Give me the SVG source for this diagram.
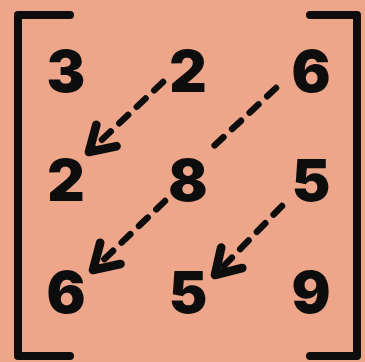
<svg xmlns="http://www.w3.org/2000/svg" width="365" height="362" viewBox="0 0 365 362">
<defs>
<style>
.num{font-family:Inter,"DejaVu Sans",sans-serif;font-weight:900;font-size:58px;fill:#0d0d0d;text-anchor:middle}
.br{fill:none;stroke:#0d0d0d;stroke-width:8;stroke-linecap:round;stroke-linejoin:round}
.dash{fill:none;stroke:#0d0d0d;stroke-width:6.5;stroke-linecap:round;stroke-dasharray:12 12}
</style>
<marker id="ah" markerUnits="userSpaceOnUse" markerWidth="40" markerHeight="40" viewBox="-25 -15 30 30" refX="0" refY="0" orient="auto">
<path d="M-18,-11 L0,0 L-18,11" fill="none" stroke="#0d0d0d" stroke-width="6.5" stroke-linecap="round" stroke-linejoin="round"/>
</marker>
</defs>
<rect width="365" height="362" fill="#EEA68A"/>
<g id="brackets">
<path class="br" d="M70,15 L18,15 L18,356 L70,356"/>
<path class="br" d="M310,15 L357,15 L357,356 L310,356"/>
</g>
<g id="connectors">
<path class="dash" d="M163,82 L89,152" marker-end="url(#ah)"/>
<path class="dash" d="M276,88 L214,146"/>
<path class="dash" d="M165,201 L93,270" marker-end="url(#ah)"/>
<path class="dash" d="M282,206 L215,275" marker-end="url(#ah)"/>
</g>
<g id="n11"><text class="num" x="66" y="92">3</text></g>
<g id="n12"><text class="num" x="188" y="92">2</text></g>
<g id="n13"><text class="num" x="311" y="92">6</text></g>
<g id="n21"><text class="num" x="66" y="201">2</text></g>
<g id="n22"><text class="num" x="188" y="201">8</text></g>
<g id="n23"><text class="num" x="311" y="201">5</text></g>
<g id="n31"><text class="num" x="66" y="313">6</text></g>
<g id="n32"><text class="num" x="188" y="313">5</text></g>
<g id="n33"><text class="num" x="311" y="313">9</text></g>
</svg>
